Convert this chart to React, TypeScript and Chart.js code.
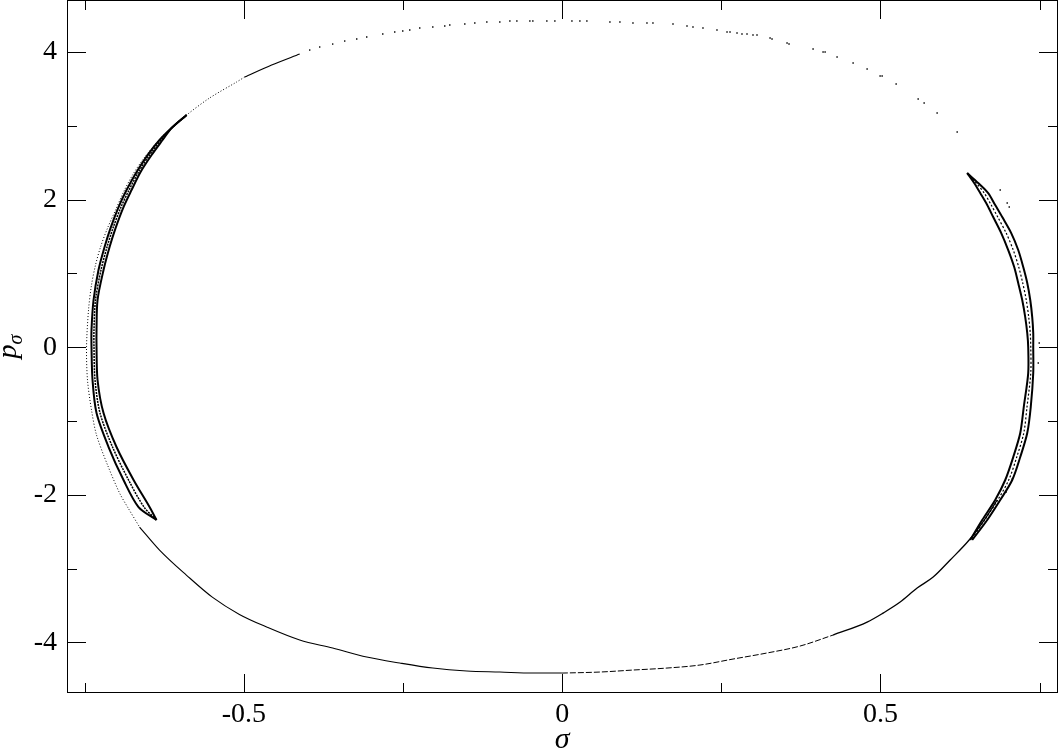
import React, { useEffect, useRef } from "react";
import { Chart, registerables } from "chart.js";

Chart.register(...registerables);

// ---------- Data: (σ, pσ) pairs ----------
// Sparse dots along the top of the outer orbit
const topArcDots: [number, number][] = [
  [-0.3967, 4.027], [-0.381, 4.068], [-0.3606, 4.108], [-0.3417, 4.149], [-0.3228, 4.176],
  [-0.3071, 4.203], [-0.2819, 4.244], [-0.2631, 4.271], [-0.2505, 4.285], [-0.2395, 4.298],
  [-0.2238, 4.325], [-0.2033, 4.339], [-0.1845, 4.352], [-0.1766, 4.366], [-0.153, 4.379],
  [-0.1373, 4.393], [-0.1184, 4.407], [-0.098, 4.407], [-0.0822, 4.42], [-0.0712, 4.42],
  [-0.0508, 4.42], [-0.0461, 4.42], [-0.0241, 4.42], [-0.0115, 4.42], [0.0153, 4.42],
  [0.0278, 4.42], [0.0388, 4.42], [0.075, 4.407], [0.0907, 4.407], [0.1112, 4.393],
  [0.1332, 4.393], [0.1426, 4.393], [0.1741, 4.379], [0.1961, 4.352], [0.2055, 4.339],
  [0.2212, 4.325], [0.2432, 4.298], [0.259, 4.271], [0.2637, 4.271], [0.2747, 4.258],
  [0.2825, 4.244], [0.2904, 4.244], [0.2998, 4.23], [0.3061, 4.23], [0.3266, 4.19],
  [0.3297, 4.176], [0.3533, 4.122], [0.3564, 4.108], [0.3942, 4.041], [0.4099, 4.0],
  [0.4131, 4.0], [0.4319, 3.932], [0.4571, 3.851], [0.4791, 3.77], [0.4995, 3.675],
  [0.5027, 3.675], [0.5247, 3.566], [0.5593, 3.363], [0.5687, 3.309], [0.5891, 3.174],
  [0.6206, 2.916],
];

// Isolated points near the right band
const strayDots: [number, number][] = [
  [0.6882, 2.13], [0.6992, 1.954], [0.7024, 1.9], [0.7495, 0.057],
  [0.748, -0.214], [0.7071, -1.786], [0.6976, -1.962],
];

// Upper-left arc (dense part)
const upperLeftArc: [number, number][] = [
  [-0.4124, 3.973], [-0.4565, 3.824], [-0.4989, 3.661],
];

// Outer strand on the left side (dotted)
const leftOuterStrand: [number, number][] = [
  [-0.4989, 3.661], [-0.5115, 3.594], [-0.554, 3.377], [-0.5901, 3.147], [-0.6216, 2.916],
  [-0.6404, 2.74], [-0.6593, 2.537], [-0.675, 2.333], [-0.6892, 2.103], [-0.7017, 1.859],
  [-0.7143, 1.615], [-0.7253, 1.358], [-0.7332, 1.114], [-0.7395, 0.843], [-0.7442, 0.504],
  [-0.7473, 0.003], [-0.7458, -0.444], [-0.7395, -0.851], [-0.7316, -1.19], [-0.7143, -1.596],
  [-0.6954, -1.976], [-0.6829, -2.165], [-0.664, -2.436],
];

// Lower arc, left half (solid)
const bottomLeftArc: [number, number][] = [
  [-0.664, -2.436], [-0.6326, -2.748], [-0.5901, -3.09], [-0.5492, -3.39], [-0.5071, -3.62],
  [-0.4643, -3.791], [-0.4124, -3.967], [-0.3606, -4.076], [-0.3071, -4.198], [-0.2552, -4.279],
  [-0.2033, -4.347], [-0.1499, -4.387], [-0.098, -4.401], [-0.0461, -4.415], [-0.0005, -4.415],
];

// Lower arc, right half (slightly broken)
const bottomRightArc: [number, number][] = [
  [-0.0005, -4.415], [0.0593, -4.401], [0.1112, -4.374], [0.1646, -4.347], [0.2165, -4.306],
  [0.2684, -4.225], [0.3218, -4.143], [0.3737, -4.049], [0.4256, -3.9],
];

// Lower-right rise towards the right band
const lowerRightArc: [number, number][] = [
  [0.4256, -3.9], [0.4791, -3.724], [0.5042, -3.602], [0.531, -3.453], [0.5577, -3.263],
  [0.5829, -3.114], [0.6096, -2.883], [0.6394, -2.612], [0.6631, -2.341], [0.6835, -2.07],
];

// Right band: three strands
const rightBandOuter: [number, number][] = [
  [0.6363, 2.36], [0.6536, 2.225], [0.6693, 2.089], [0.6803, 1.927], [0.6914, 1.764],
  [0.7055, 1.547], [0.7165, 1.317], [0.7244, 1.087], [0.7307, 0.87], [0.7354, 0.64],
  [0.7385, 0.409], [0.7401, 0.192], [0.7401, 0.003], [0.7401, -0.35], [0.7362, -0.81],
  [0.7307, -1.163], [0.7197, -1.488], [0.7071, -1.799], [0.6882, -2.07], [0.6678, -2.341],
  [0.6442, -2.612],
];
const rightBandMiddle: [number, number][] = [
  [0.6363, 2.36], [0.6505, 2.225], [0.6631, 2.089], [0.6741, 1.927], [0.6843, 1.764],
  [0.6976, 1.547], [0.7087, 1.317], [0.7173, 1.087], [0.7236, 0.87], [0.7291, 0.64],
  [0.733, 0.409], [0.7354, 0.192], [0.7362, 0.003], [0.7362, -0.35], [0.7303, -0.81],
  [0.7252, -1.163], [0.7142, -1.488], [0.7016, -1.799], [0.6843, -2.07], [0.6639, -2.341],
  [0.6426, -2.612],
];
const rightBandInner: [number, number][] = [
  [0.6363, 2.36], [0.6473, 2.225], [0.6568, 2.089], [0.6678, 1.927], [0.6772, 1.764],
  [0.6898, 1.547], [0.7008, 1.317], [0.7102, 1.087], [0.7165, 0.87], [0.7228, 0.64],
  [0.7275, 0.409], [0.7307, 0.192], [0.7322, 0.003], [0.7322, -0.35], [0.7252, -0.81],
  [0.7197, -1.163], [0.7087, -1.488], [0.6961, -1.799], [0.6803, -2.07], [0.6599, -2.341],
  [0.641, -2.612],
];

// Left band: three strands
const leftBandOuter: [number, number][] = [
  [-0.5901, 3.147], [-0.6137, 2.97], [-0.6326, 2.808], [-0.6514, 2.604], [-0.6687, 2.374],
  [-0.6844, 2.13], [-0.697, 1.9], [-0.7096, 1.615], [-0.719, 1.358], [-0.7285, 1.046],
  [-0.7363, 0.64], [-0.7395, 0.233], [-0.7395, 0.003], [-0.7379, -0.444], [-0.7316, -0.892],
  [-0.7127, -1.352], [-0.6892, -1.799], [-0.6656, -2.165], [-0.6373, -2.341],
];
const leftBandMiddle: [number, number][] = [
  [-0.5901, 3.147], [-0.6137, 2.97], [-0.6302, 2.808], [-0.6483, 2.604], [-0.6656, 2.374],
  [-0.6805, 2.13], [-0.6931, 1.9], [-0.7057, 1.615], [-0.7151, 1.358], [-0.7246, 1.046],
  [-0.7332, 0.64], [-0.7356, 0.233], [-0.7356, 0.003], [-0.734, -0.444], [-0.7261, -0.892],
  [-0.7065, -1.352], [-0.6813, -1.799], [-0.657, -2.165], [-0.6373, -2.341],
];
const leftBandInner: [number, number][] = [
  [-0.5901, 3.147], [-0.6137, 2.97], [-0.6278, 2.808], [-0.6451, 2.604], [-0.6624, 2.374],
  [-0.6766, 2.13], [-0.6892, 1.9], [-0.7017, 1.615], [-0.7111, 1.358], [-0.7206, 1.046],
  [-0.73, 0.64], [-0.7316, 0.233], [-0.7316, 0.003], [-0.73, -0.444], [-0.7206, -0.892],
  [-0.7002, -1.352], [-0.6734, -1.799], [-0.6483, -2.165], [-0.6373, -2.341],
];

// Axis ticks
const xTickValues = [-0.5, 0, 0.5];
const xMinorTickValues = [-0.75, -0.25, 0.25, 0.75];
const yTickValues = [-4, -2, 0, 2, 4];
const yMinorTickValues = [-3, -1, 1, 3];

const X_MIN = -0.778;
const X_MAX = 0.779;
const Y_MIN = -4.685;
const Y_MAX = 4.705;

const FONT = "'Liberation Serif', 'Times New Roman', serif";

const toXY = (arr: [number, number][]) => arr.map(([x, y]) => ({ x, y }));

const lineDs = (
  label: string,
  arr: [number, number][],
  width: number,
  dash: number[] = [],
  monotone = false
) => ({
  label,
  data: toXY(arr),
  showLine: true,
  borderColor: "#000",
  borderWidth: width,
  borderDash: dash,
  pointRadius: 0,
  pointHoverRadius: 0,
  tension: 0.3,
  cubicInterpolationMode: monotone ? "monotone" : "default",
  fill: false,
});

const dotDs = (label: string, arr: [number, number][]) => ({
  label,
  data: toXY(arr),
  showLine: false,
  pointStyle: "rect",
  pointRadius: 1,
  pointBorderWidth: 0,
  pointBackgroundColor: "#000",
  borderColor: "#000",
  backgroundColor: "#000",
});

const frameTicksPlugin = {
  id: "frameTicks",
  afterDraw(chart: any) {
    const { ctx, chartArea: a, scales } = chart;
    const xs = scales.x;
    const ys = scales.y;
    ctx.save();
    ctx.strokeStyle = "#000";
    ctx.lineWidth = 1;
    ctx.strokeRect(a.left + 0.5, a.top + 0.5, a.right - a.left - 1, a.bottom - a.top - 1);
    const seg = (x1: number, y1: number, x2: number, y2: number) => {
      ctx.beginPath();
      ctx.moveTo(x1, y1);
      ctx.lineTo(x2, y2);
      ctx.stroke();
    };
    const xTick = (v: number, len: number) => {
      const px = Math.round(xs.getPixelForValue(v)) + 0.5;
      seg(px, a.bottom, px, a.bottom - len);
      seg(px, a.top, px, a.top + len);
    };
    const yTick = (v: number, len: number) => {
      const py = Math.round(ys.getPixelForValue(v)) + 0.5;
      seg(a.left, py, a.left + len, py);
      seg(a.right, py, a.right - len, py);
    };
    xTickValues.forEach((v) => xTick(v, 19));
    xMinorTickValues.forEach((v) => xTick(v, 10));
    yTickValues.forEach((v) => yTick(v, 19));
    yMinorTickValues.forEach((v) => yTick(v, 10));

    // axis titles
    ctx.fillStyle = "#000";
    ctx.textBaseline = "alphabetic";
    ctx.textAlign = "center";
    ctx.font = `italic 30px ${FONT}`;
    ctx.fillText("σ", xs.getPixelForValue(0), 748);

    ctx.translate(16, (a.top + a.bottom) / 2);
    ctx.rotate(-Math.PI / 2);
    ctx.textAlign = "left";
    ctx.font = `italic 28px ${FONT}`;
    const pw = ctx.measureText("p").width;
    ctx.font = `italic 20px ${FONT}`;
    const sw = ctx.measureText("σ").width;
    const start = -(pw + sw) / 2;
    ctx.font = `italic 28px ${FONT}`;
    ctx.fillText("p", start, 0);
    ctx.font = `italic 20px ${FONT}`;
    ctx.fillText("σ", start + pw, 6);
    ctx.restore();
  },
};

export default function App() {
  const canvasRef = useRef<HTMLCanvasElement | null>(null);

  useEffect(() => {
    const canvas = canvasRef.current;
    if (!canvas) return;
    const chart = new Chart(canvas, {
      type: "scatter",
      data: {
        datasets: [
          dotDs("top arc", topArcDots),
          dotDs("stray", strayDots),
          lineDs("upper left arc", upperLeftArc, 1.2),
          lineDs("left outer strand", leftOuterStrand, 1, [1, 2]),
          lineDs("bottom left", bottomLeftArc, 1.1, [], true),
          lineDs("bottom right", bottomRightArc, 1, [6, 2], true),
          lineDs("lower right", lowerRightArc, 1.3, [], true),
          lineDs("right band outer", rightBandOuter, 2),
          lineDs("right band middle", rightBandMiddle, 1.2, [2, 2]),
          lineDs("right band inner", rightBandInner, 2),
          lineDs("left band outer", leftBandOuter, 2),
          lineDs("left band middle", leftBandMiddle, 1.5, [2, 1]),
          lineDs("left band inner", leftBandInner, 2),
        ] as any,
      },
      options: {
        animation: false,
        responsive: false,
        maintainAspectRatio: false,
        events: [],
        layout: { autoPadding: false, padding: { top: 0, right: 1, bottom: 0, left: 0 } },
        plugins: {
          legend: { display: false },
          tooltip: { enabled: false },
          title: { display: false },
        },
        scales: {
          x: {
            type: "linear",
            position: "bottom",
            min: X_MIN,
            max: X_MAX,
            grid: { display: false, drawTicks: false },
            border: { display: false },
            title: { display: false },
            ticks: {
              color: "#000",
              font: { family: FONT, size: 28 },
              padding: 5,
              maxRotation: 0,
              autoSkip: false,
              callback: (v: any) => String(v),
            },
            afterBuildTicks: (s: any) => {
              s.ticks = xTickValues.map((value) => ({ value }));
            },
            afterFit: (s: any) => {
              s.height = 57;
              s.paddingLeft = 0;
              s.paddingRight = 0;
              s.paddingTop = 0;
              s.paddingBottom = 0;
            },
          },
          y: {
            type: "linear",
            position: "left",
            min: Y_MIN,
            max: Y_MAX,
            grid: { display: false, drawTicks: false },
            border: { display: false },
            title: { display: false },
            ticks: {
              color: "#000",
              font: { family: FONT, size: 28 },
              padding: 10,
              autoSkip: false,
              callback: (v: any) => String(v),
            },
            afterBuildTicks: (s: any) => {
              s.ticks = yTickValues.map((value) => ({ value }));
            },
            afterFit: (s: any) => {
              s.width = 67;
              s.paddingLeft = 0;
              s.paddingRight = 0;
              s.paddingTop = 0;
              s.paddingBottom = 0;
            },
          },
        },
      } as any,
      plugins: [frameTicksPlugin],
    });
    return () => chart.destroy();
  }, []);

  return (
    <div style={{ position: "fixed", left: 0, top: 0, width: 1059, height: 750, background: "#fff" }}>
      <canvas ref={canvasRef} width={1059} height={750} style={{ display: "block" }} />
    </div>
  );
}
